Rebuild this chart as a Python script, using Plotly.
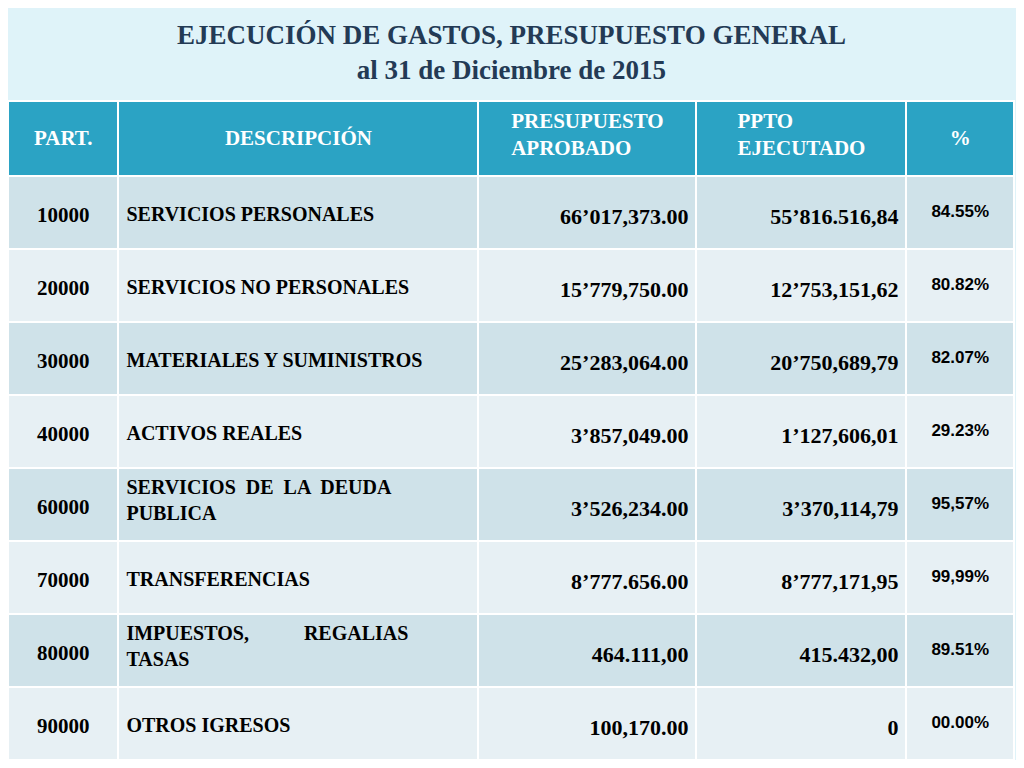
import plotly.graph_objects as go

headers = ["PART.", "DESCRIPCIÓN", "PRESUPUESTO<br>APROBADO", "PPTO<br>EJECUTADO", "%"]
partidas = ["10000", "20000", "30000", "40000", "60000", "70000", "80000", "90000"]
descripciones = ["SERVICIOS PERSONALES", "SERVICIOS NO PERSONALES", "MATERIALES Y SUMINISTROS",
                 "ACTIVOS REALES", "SERVICIOS  DE  LA  DEUDA<br>PUBLICA", "TRANSFERENCIAS",
                 "IMPUESTOS,           REGALIAS<br>TASAS", "OTROS IGRESOS"]
aprobado = ["66’017,373.00", "15’779,750.00", "25’283,064.00", "3’857,049.00",
            "3’526,234.00", "8’777.656.00", "464.111,00", "100,170.00"]
ejecutado = ["55’816.516,84", "12’753,151,62", "20’750,689,79", "1’127,606,01",
             "3’370,114,79", "8’777,171,95", "415.432,00", "0"]
porcentaje = ["84.55%", "80.82%", "82.07%", "29.23%", "95,57%", "99,99%", "89.51%", "00.00%"]

fill = [["#cfe2e9" if i % 2 == 0 else "#e7f0f4" for i in range(len(partidas))]] * 5


def fmt(v):
    pad = "" if "<br>" in v else '<span style="font-size:12px"> </span><br>'
    return f"{pad}<b>{v}</b>"


fig = go.Figure(go.Table(
    columnwidth=[112, 365, 221, 213, 109],
    header=dict(values=[f"<b>{h}</b>" if "<br>" in h else f'<span style="font-size:10px"> </span><br><b>{h}</b>' for h in headers],
                fill_color="#2ba3c4",
                font=dict(family="Liberation Serif", size=21, color="white"),
                align="center", height=75, line=dict(color="white", width=2)),
    cells=dict(values=[[fmt(v) for v in col] for col in
                       [partidas, descripciones, aprobado, ejecutado, porcentaje]],
               fill_color=fill,
               font=dict(family=["Liberation Serif"] * 4 + ["Liberation Sans"],
                         size=[21, 20, 22, 22, 17], color="black"),
               align=["center", "left", "right", "right", "center"],
               height=73, line=dict(color="white", width=2)),
    domain=dict(x=[0, 1], y=[0, 1])
))

fig.add_annotation(text="<b>EJECUCIÓN DE GASTOS, PRESUPUESTO GENERAL<br>al 31 de Diciembre de 2015</b>",
                   x=0.5, y=1, xref="paper", yref="paper", yanchor="bottom", yshift=14,
                   showarrow=False, font=dict(family="Liberation Serif", size=27, color="#233a55"))

fig.update_layout(width=1008, height=752, margin=dict(l=0, r=2, t=93, b=0),
                  paper_bgcolor="#dff3f9", plot_bgcolor="#dff3f9")
fig.write_html("out.html")
